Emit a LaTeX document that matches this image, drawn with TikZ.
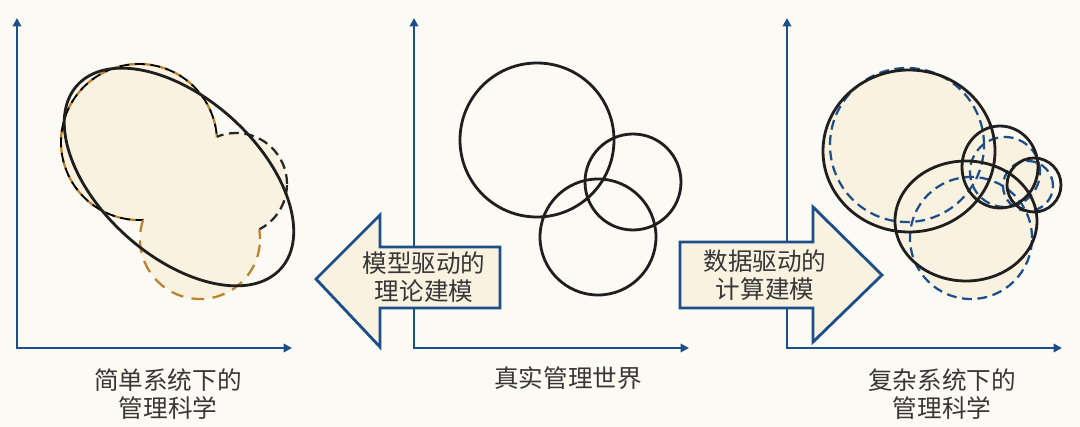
\documentclass[tikz,border=0pt]{standalone}
\usepackage{fontspec}
\newfontfamily\cjk{Noto Sans CJK SC}
\usetikzlibrary{arrows.meta, positioning}
\definecolor{axisblue}{RGB}{28,78,138}
\definecolor{paper}{RGB}{252,250,244}
\definecolor{blobfill}{RGB}{250,242,224}
\definecolor{ochre}{RGB}{188,130,45}
\definecolor{inkgray}{RGB}{55,55,55}

\begin{document}
\begin{tikzpicture}[x=0.025cm, y=0.025cm,
  font=\cjk\fontsize{17.5}{20}\selectfont,
  axisline/.style={draw=axisblue, line width=1.6pt,
                   {Triangle[length=6pt,width=6pt]}-{Triangle[length=6pt,width=6pt]}},
  solidring/.style={draw=black!88, line width=2pt},
  dashring/.style={line width=1.6pt, dash pattern=on 7pt off 4pt},
  bigarrow/.style={draw=axisblue, fill=blobfill, line width=2pt, line join=miter},
  paneltxt/.style={text=inkgray, align=center, inner sep=0pt}]
  \fill[paper] (0,0) rectangle (1080,-427);
  \useasboundingbox (0,0) rectangle (1080,-427);

  % axes
  \coordinate (ltop) at (17,-18);   \coordinate (lend) at (292,-348);
  \coordinate (mtop) at (414,-18);  \coordinate (mend) at (689,-348);
  \coordinate (rtop) at (787,-18);  \coordinate (rend) at (1062,-348);
  \draw[axisline] (ltop) |- (lend);
  \draw[axisline] (mtop) |- (mend);
  \draw[axisline] (rtop) |- (rend);

  % left panel: simple model of the three circles
  \fill[blobfill] (139,-142) circle[radius=78] (236,-184) circle[radius=51]
                  (200,-239) circle[radius=60];
  \begin{scope}[even odd rule]
    \clip (0,0) rectangle (1080,-427) (236,-184) circle[radius=51];
    \clip (0,0) rectangle (1080,-427) (200,-239) circle[radius=60];
    \draw[dashring, ochre] (139,-142) circle[radius=78];
    \draw[dashring, black, dash phase=5pt, line width=1.3pt] (139,-142) circle[radius=78];
  \end{scope}
  \begin{scope}[even odd rule]
    \clip (0,0) rectangle (1080,-427) (139,-142) circle[radius=78];
    \clip (0,0) rectangle (1080,-427) (200,-239) circle[radius=60];
    \draw[dashring, black!85] (236,-184) circle[radius=51];
  \end{scope}
  \begin{scope}[even odd rule]
    \clip (0,0) rectangle (1080,-427) (139,-142) circle[radius=78];
    \clip (0,0) rectangle (1080,-427) (236,-184) circle[radius=51];
    \draw[dashring, ochre, dash pattern=on 9pt off 6pt] (200,-239) circle[radius=60];
  \end{scope}
  \draw[solidring, rotate around={-42:(179,-177)}] (179,-177) ellipse[x radius=137, y radius=79];

  % middle panel: the real world
  \draw[solidring] (537,-140) circle[radius=77];
  \draw[solidring] (633,-182) circle[radius=48];
  \draw[solidring] (598,-237) circle[radius=58];

  % right panel: data driven fit
  \fill[blobfill] (907,-145) circle[radius=77] (1005,-172) circle[radius=35]
                  (1028,-186) circle[radius=25] (971,-238) circle[radius=61];
  \fill[blobfill] (909,-151) ellipse[x radius=86, y radius=81]
                  (966,-221) ellipse[x radius=71, y radius=60];
  \draw[dashring, axisblue] (907,-145) circle[radius=77];
  \draw[dashring, axisblue] (1005,-172) circle[radius=35];
  \draw[dashring, axisblue] (1028,-186) circle[radius=25];
  \draw[dashring, axisblue] (971,-238) circle[radius=61];
  \draw[solidring] (909,-151) ellipse[x radius=86, y radius=81];
  \draw[solidring] (1000,-167) ellipse[x radius=38, y radius=41];
  \draw[solidring] (1034,-185) circle[radius=27];
  \draw[solidring] (966,-221) ellipse[x radius=71, y radius=60];

  % the two big arrows
  \draw[bigarrow] (500,-247) -- (380,-247) -- (380,-215) -- (316,-279)
                  -- (380,-347) -- (380,-308) -- (500,-308) -- cycle;
  \node[paneltxt] (modeltxt) at (424,-277) {模型驱动的\\理论建模};
  \draw[bigarrow] (680,-242) -- (813,-242) -- (813,-207) -- (882,-275)
                  -- (813,-342) -- (813,-308) -- (680,-308) -- cycle;
  \node[paneltxt] (datatxt) at (765,-275) {数据驱动的\\计算建模};

  % captions
  \node[paneltxt] (simplecap) at (168,-394) {简单系统下的\\管理科学};
  \node[paneltxt] (realcap) at (568,-378) {真实管理世界};
  \node[paneltxt] (complexcap) at (942,-394) {复杂系统下的\\管理科学};
\end{tikzpicture}
\end{document}
